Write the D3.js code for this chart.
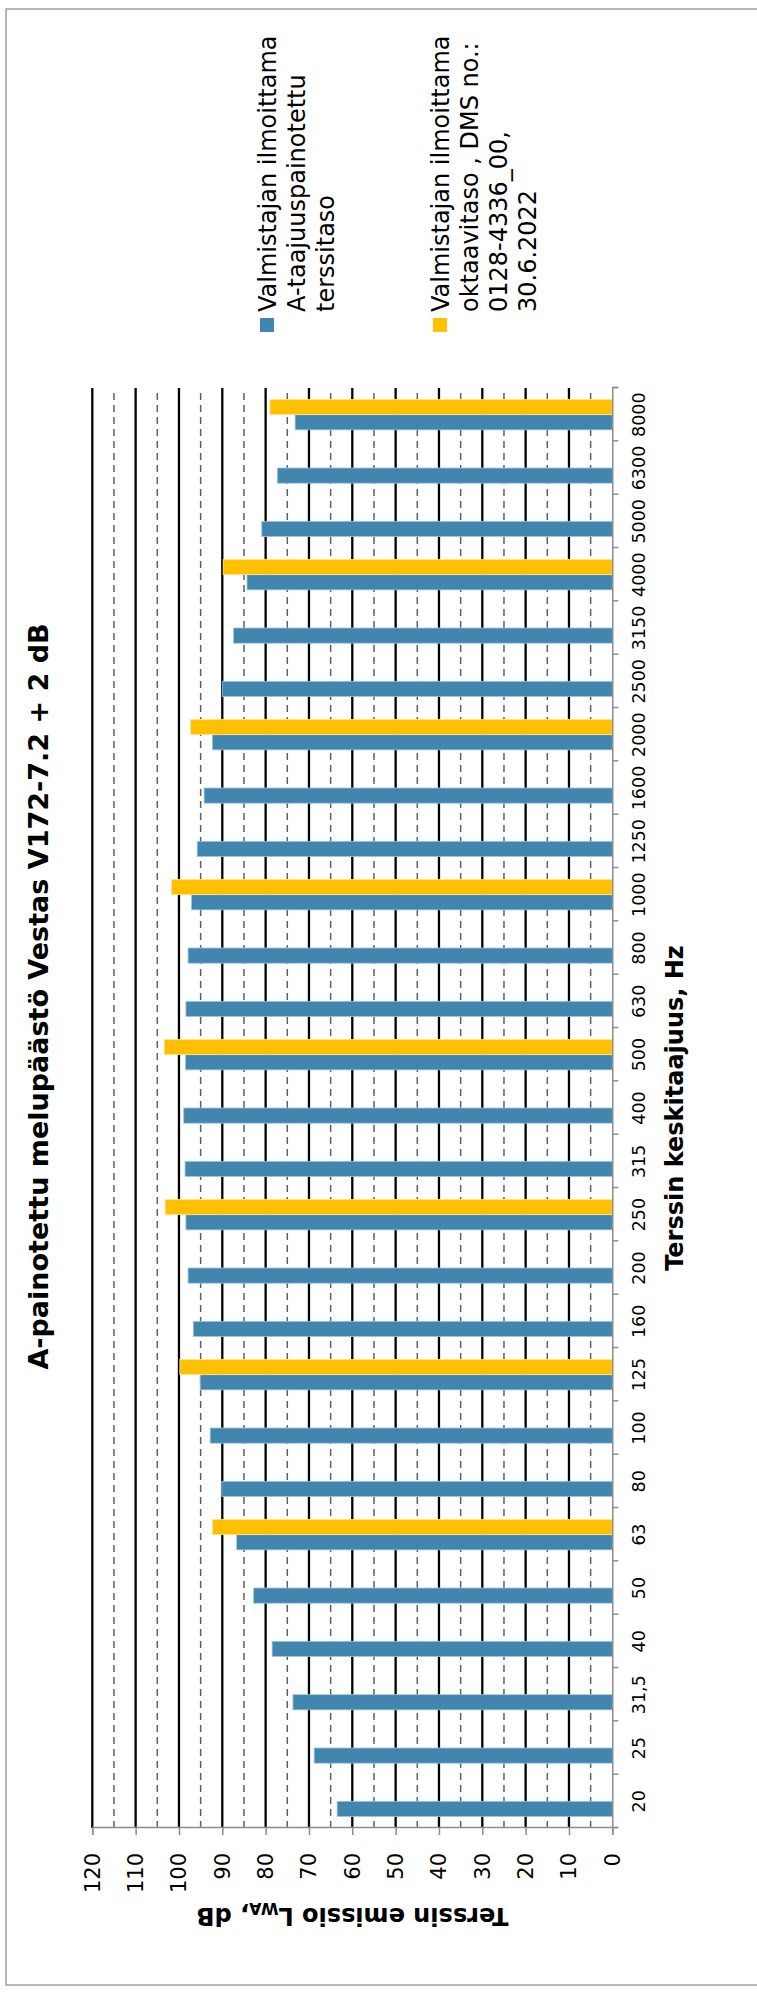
<!DOCTYPE html>
<html>
<head>
<meta charset="utf-8">
<script src="https://cdn.jsdelivr.net/npm/d3@7"></script>
<style>
  html, body { margin: 0; padding: 0; background: #fff; }
  svg { display: block; }
  text { font-family: "DejaVu Sans", Verdana, sans-serif; fill: #000; }
</style>
</head>
<body>
<script>
// ---- data ----
const categories = ["20","25","31,5","40","50","63","80","100","125","160","200","250","315","400","500","630","800","1000","1250","1600","2000","2500","3150","4000","5000","6300","8000"];
const tertsValues = [63.5,68.8,73.7,78.5,82.8,86.7,90.1,92.8,95.1,96.7,97.9,98.4,98.6,98.9,98.5,98.4,97.9,97.1,95.8,94.2,92.3,90.0,87.4,84.3,80.9,77.3,73.2];
const octaveValues = [null,null,null,null,null,92.3,null,null,99.8,null,null,103.2,null,null,103.4,null,null,101.7,null,null,97.3,null,null,89.8,null,null,79.0];
const valueTicks = [0,10,20,30,40,50,60,70,80,90,100,110,120];
const minorTicks = [5,15,25,35,45,55,65,75,85,95,105,115];
const seriesNames = ["terssi","oktaavi"];
const legendLines = [
  ["Valmistajan ilmoittama","A-taajuuspainotettu","terssitaso"],
  ["Valmistajan ilmoittama","oktaavitaso , DMS no.:","0128-4336_00,","30.6.2022"]
];
const colors = ["#4186AF","#FFC000"];
const strokes = ["#a3c5dc","#ffe396"];
const titleText = "A-painotettu melupäästö Vestas V172-7.2 + 2 dB";
const xTitle = "Terssin keskitaajuus, Hz";

// ---- layout (landscape chart, rotated onto the portrait page) ----
const PW = 757, PH = 1993;
const W = PH, H = PW; // landscape dims

const svg = d3.select("body").append("svg").attr("width", PW).attr("height", PH);

// outer frame
svg.append("rect").attr("x", 6).attr("y", 9).attr("width", 770).attr("height", 1976)
  .attr("fill", "none").attr("stroke", "#a0a0a0").attr("stroke-width", 1.5);

const g = svg.append("g").attr("transform", `translate(0,${PH}) rotate(-90)`);

const x = d3.scaleBand().domain(categories).range([165, 1605]).padding(0);
const xi = d3.scaleLinear().domain([0, categories.length]).range([165, 1605]);
const x1 = d3.scaleBand().domain(seriesNames).range([0, x.bandwidth()]).paddingInner(0).paddingOuter(0.754);
const y = d3.scaleLinear().domain([0, 120]).range([612.3, 92.3]);

// gridlines
g.append("g").selectAll("line").data(minorTicks).join("line")
  .attr("x1", 165).attr("x2", 1605)
  .attr("y1", d => y(d)).attr("y2", d => y(d))
  .attr("stroke", "#5f5f5f").attr("stroke-width", 1.5).attr("stroke-dasharray", "7,5");
g.append("g").selectAll("line").data(valueTicks.filter(d => d > 0)).join("line")
  .attr("x1", 165).attr("x2", 1605)
  .attr("y1", d => y(d)).attr("y2", d => y(d))
  .attr("stroke", "#000").attr("stroke-width", 2.3);

// bars
const seriesData = [tertsValues, octaveValues];
seriesData.forEach((vals, si) => {
  g.append("g").selectAll("rect")
    .data(vals.map((v, i) => ({ c: categories[i], v })).filter(d => d.v != null))
    .join("rect")
    .attr("x", d => x(d.c) + x1(seriesNames[si]))
    .attr("width", x1.bandwidth())
    .attr("y", d => y(d.v))
    .attr("height", d => y(0) - y(d.v))
    .attr("fill", colors[si])
    .attr("stroke", strokes[si]).attr("stroke-width", 0.8);
});

// value axis
const yAxis = g.append("g").attr("transform", "translate(165,0)")
  .call(d3.axisLeft(y).tickValues(valueTicks).tickSize(7).tickPadding(18));
yAxis.select(".domain").attr("stroke", "#8c8c8c").attr("stroke-width", 1.5);
yAxis.selectAll(".tick line").attr("stroke", "#8c8c8c").attr("stroke-width", 1.5);
yAxis.selectAll("text").attr("font-size", 21).attr("font-family", "DejaVu Sans").attr("fill", "#000");

// category axis: boundary ticks
const xTickAxis = g.append("g").attr("transform", `translate(0,${y(0)})`)
  .call(d3.axisBottom(xi).tickValues(d3.range(0, categories.length + 1)).tickSize(6).tickFormat(""));
xTickAxis.select(".domain").attr("stroke", "#8c8c8c").attr("stroke-width", 1.5);
xTickAxis.selectAll(".tick line").attr("stroke", "#8c8c8c").attr("stroke-width", 1.5);

// category labels
const xAxis = g.append("g").attr("transform", `translate(0,${y(0)})`)
  .call(d3.axisBottom(x).tickSize(0).tickPadding(20.3));
xAxis.select(".domain").remove();
xAxis.selectAll("text").attr("font-size", 17.5).attr("font-family", "DejaVu Sans").attr("fill", "#000");

// title
g.append("text").attr("x", W / 2).attr("y", 48).attr("text-anchor", "middle")
  .attr("font-size", 27).attr("font-weight", "bold").text(titleText);

// x axis title
g.append("text").attr("x", (165 + 1605) / 2).attr("y", 683).attr("text-anchor", "middle")
  .attr("font-size", 24).attr("font-weight", "bold").text(xTitle);

// y axis title
const yt = g.append("text").attr("transform", `translate(85,${(y(0) + y(120)) / 2}) rotate(-90)`)
  .attr("text-anchor", "middle").attr("font-size", 24).attr("font-weight", "bold");
yt.append("tspan").text("Terssin emissio L");
yt.append("tspan").attr("font-size", 16).attr("dy", 5).text("WA");
yt.append("tspan").attr("dy", -5).text(", dB");

// legend
const legendTops = [260, 433];
legendLines.forEach((lines, i) => {
  const lg = g.append("g");
  lg.append("rect").attr("x", 1661).attr("y", legendTops[i]).attr("width", 14).attr("height", 14)
    .attr("fill", colors[i]);
  const t = lg.append("text").attr("font-size", 24);
  lines.forEach((ln, j) => {
    t.append("tspan").attr("x", 1681).attr("y", legendTops[i] + 16 + j * 29).text(ln);
  });
});
</script>
</body>
</html>
